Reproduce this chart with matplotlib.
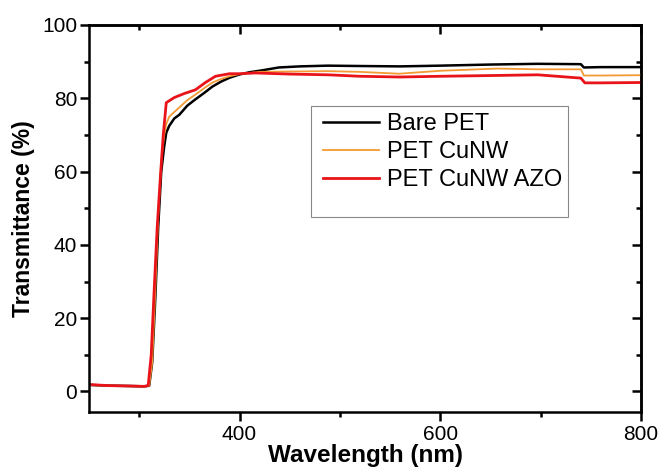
import matplotlib
matplotlib.use('Agg')
import matplotlib.pyplot as plt
from matplotlib.patches import Rectangle
from matplotlib.ticker import MultipleLocator

plt.rcParams['font.family'] = ['Liberation Sans', 'DejaVu Sans']

# data (wavelength in nm, transmittance in %)
wl_bare = [250, 270, 290, 305, 310, 313, 316, 319, 322, 325, 327, 330, 335, 340, 348, 356, 365,
           373, 382, 390, 400, 410, 422, 439, 460, 488, 520, 560, 600, 650, 697, 740, 743, 760, 800]
t_bare = [1.8, 1.6, 1.5, 1.4, 1.6, 8, 25, 45, 60, 67, 70.6, 72.5, 74.5, 75.5, 78, 79.7, 81.5,
          83.2, 84.6, 85.6, 86.5, 87.1, 87.6, 88.4, 88.7, 88.9, 88.8, 88.7, 88.9, 89.2, 89.4, 89.3, 88.4, 88.5, 88.5]

wl_cunw = [250, 270, 290, 305, 310, 313, 316, 319, 322, 325, 327, 330, 340, 348, 356, 365, 373,
           382, 390, 400, 420, 450, 488, 520, 559, 600, 657, 697, 740, 743, 760, 800]
t_cunw = [1.8, 1.6, 1.5, 1.4, 1.6, 8, 27, 48, 63, 70, 73, 75, 77.5, 79.5, 81, 82.8, 84.3,
          85.3, 86, 86.6, 87.2, 87.3, 87.4, 87.2, 86.7, 87.5, 88.1, 87.9, 87.9, 86.2, 86.2, 86.3]

wl_azo = [250, 270, 290, 305, 309, 312, 315, 318, 321, 324, 327, 335, 345, 356, 366, 376, 390,
          400, 416, 450, 488, 520, 559, 600, 650, 697, 740, 744, 760, 800]
t_azo = [1.9, 1.6, 1.5, 1.4, 1.6, 10, 28, 45, 58, 70, 78.8, 80.2, 81.3, 82.3, 84.3, 86, 86.7,
         86.7, 86.9, 86.6, 86.4, 86.0, 85.8, 86.0, 86.2, 86.4, 85.5, 84.2, 84.2, 84.3]

labels = ['Bare PET', 'PET CuNW', 'PET CuNW AZO']

fig = plt.figure(figsize=(6.62, 4.71), dpi=100)
ax = fig.add_axes([0.1344, 0.126, 0.834, 0.821])

ax.plot(wl_bare, t_bare, color='black', lw=1.8, label=labels[0])
ax.plot(wl_cunw, t_cunw, color='#f39a34', lw=1.3, label=labels[1])
ax.plot(wl_azo, t_azo, color='#e8141a', lw=2.0, label=labels[2])

ax.set_xlim(250, 800)
ax.set_ylim(-5.5, 100)
ax.xaxis.set_major_locator(MultipleLocator(200))
ax.xaxis.set_minor_locator(MultipleLocator(100))
ax.yaxis.set_major_locator(MultipleLocator(20))
ax.yaxis.set_minor_locator(MultipleLocator(10))

for s in ax.spines.values():
    s.set_linewidth(1.8)
ax.tick_params(which='major', direction='out', length=6.5, width=1.8, labelsize=15, pad=2)
ax.tick_params(axis='x', which='major', pad=3)
ax.tick_params(which='minor', direction='out', length=3.5, width=1.8)

# top and right ticks point inward
secx = ax.secondary_xaxis('top')
secx.xaxis.set_major_locator(MultipleLocator(200))
secx.xaxis.set_minor_locator(MultipleLocator(100))
secx.tick_params(which='major', direction='in', length=6.5, width=1.8, labeltop=False)
secx.tick_params(which='minor', direction='in', length=3.5, width=1.8)
secy = ax.secondary_yaxis('right')
secy.yaxis.set_major_locator(MultipleLocator(20))
secy.yaxis.set_minor_locator(MultipleLocator(10))
secy.tick_params(which='major', direction='in', length=6.5, width=1.8, labelright=False)
secy.tick_params(which='minor', direction='in', length=3.5, width=1.8)
for s in list(secx.spines.values()) + list(secy.spines.values()):
    s.set_linewidth(1.8)

ax.set_xlabel('Wavelength (nm)', fontsize=17.5, fontweight='bold', labelpad=0)
ax.set_ylabel('Transmittance (%)', fontsize=16.5, fontweight='bold', labelpad=5)

ax.add_patch(Rectangle((0.402, 0.503), 0.466, 0.287, transform=ax.transAxes,
                       fill=False, edgecolor='#888888', lw=0.8, zorder=4))
ax.legend(loc='upper left', bbox_to_anchor=(0.424, 0.772), frameon=False, fontsize=17,
          handlelength=2.35, handletextpad=0.35, labelspacing=0.25, borderaxespad=0,
          borderpad=0)

fig.savefig('out.png', dpi=100)
